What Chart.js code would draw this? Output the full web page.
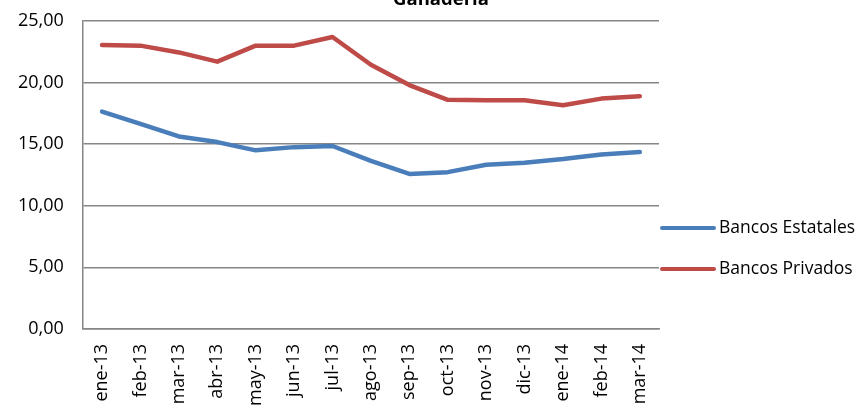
<!DOCTYPE html>
<html>
<head>
<meta charset="utf-8">
<script src="https://cdn.jsdelivr.net/npm/chart.js@4/dist/chart.umd.min.js"></script>
<style>
  html, body { margin: 0; padding: 0; background: #fff; }
  #wrap { width: 863px; height: 407px; position: relative; }
</style>
</head>
<body>
<div id="wrap"><canvas id="chart"></canvas></div>
<script>
// data
const months = ["ene-13", "feb-13", "mar-13", "abr-13", "may-13", "jun-13", "jul-13", "ago-13",
                "sep-13", "oct-13", "nov-13", "dic-13", "ene-14", "feb-14", "mar-14"];
const estatales = [17.65, 16.65, 15.63, 15.17, 14.5, 14.76, 14.85, 13.65, 12.58, 12.73, 13.33, 13.5, 13.8, 14.17, 14.36];
const privados = [23.05, 23.0, 22.45, 21.7, 23.0, 23.0, 23.7, 21.45, 19.8, 18.6, 18.57, 18.57, 18.16, 18.7, 18.9];
const chartTitle = "Ganadería";

const FONT = "'Open Sans', sans-serif";
const gridGray = "#868686";

// title is clipped at the top, and the legend sits low on the right, so draw both by hand
const extras = {
    id: "extras",
    afterDraw(chart) {
        const ctx = chart.ctx;
        ctx.save();
        ctx.fillStyle = "#000";
        ctx.font = "bold 18.5px " + FONT;
        ctx.textAlign = "center";
        ctx.textBaseline = "alphabetic";
        ctx.fillText(chartTitle, 441, 5);

        let ys = [228, 269];
        chart.data.datasets.forEach((ds, i) => {
            ctx.strokeStyle = ds.borderColor;
            ctx.lineWidth = 4;
            ctx.lineCap = "round";
            ctx.beginPath();
            ctx.moveTo(662, ys[i]);
            ctx.lineTo(714, ys[i]);
            ctx.stroke();
            ctx.fillStyle = "#000";
            ctx.font = "17.5px " + FONT;
            ctx.textAlign = "left";
            ctx.textBaseline = "middle";
            ctx.fillText(ds.label, 719, ys[i]);
        });
        ctx.restore();
    }
};

new Chart(document.getElementById("chart"), {
    type: "line",
    data: {
        labels: months,
        datasets: [
            { label: "Bancos Estatales", data: estatales, borderColor: "#4A7EBB", backgroundColor: "#4A7EBB",
              borderWidth: 4.5, pointRadius: 0, tension: 0, borderCapStyle: "round", borderJoinStyle: "round" },
            { label: "Bancos Privados", data: privados, borderColor: "#BE4B48", backgroundColor: "#BE4B48",
              borderWidth: 4.5, pointRadius: 0, tension: 0, borderCapStyle: "round", borderJoinStyle: "round" }
        ]
    },
    options: {
        responsive: true,
        maintainAspectRatio: false,
        animation: false,
        layout: { padding: { top: 21, right: 204, left: -1, bottom: -14 } },
        plugins: {
            legend: { display: false },
            title: { display: false },
            tooltip: { enabled: false }
        },
        scales: {
            x: {
                offset: true,
                grid: { display: false, drawTicks: false },
                border: { color: gridGray, width: 1.5 },
                ticks: {
                    autoSkip: false, maxRotation: 90, minRotation: 90, padding: 15,
                    color: "#000", font: { family: FONT, size: 18 }
                }
            },
            y: {
                min: 0, max: 25,
                grid: { color: gridGray, lineWidth: 1.5, drawTicks: false },
                border: { color: gridGray, width: 1.5 },
                ticks: {
                    stepSize: 5, padding: 19, color: "#000", font: { family: FONT, size: 18 },
                    callback: (v) => v.toFixed(2).replace(".", ",")
                },
                // tick padding is also added above the top label; drop that so the plot top sits at 21px
                afterFit: (scale) => { scale.paddingTop = 0; scale.paddingBottom = 0; }
            }
        }
    },
    plugins: [extras]
});
</script>
</body>
</html>
